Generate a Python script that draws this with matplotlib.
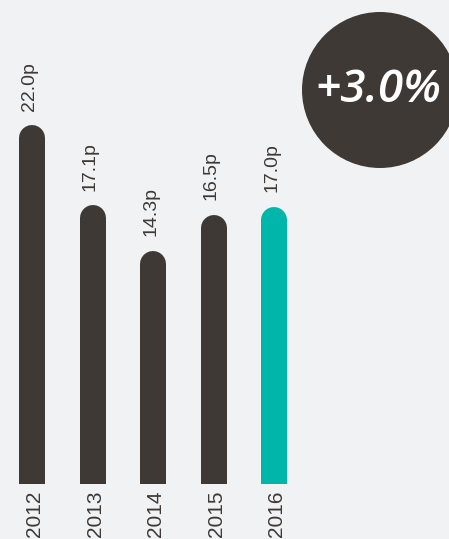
import matplotlib
matplotlib.use("Agg")
import matplotlib.pyplot as plt
from matplotlib.patches import Circle
import numpy as np

years = ["2012", "2013", "2014", "2015", "2016"]
values = [22.0, 17.1, 14.3, 16.5, 17.0]
labels = ["22.0p", "17.1p", "14.3p", "16.5p", "17.0p"]
change_label = "+3.0%"

BG = "#f1f2f4"
DARK = "#3e3935"
TEAL = "#00b5a9"
colors = [DARK, DARK, DARK, DARK, TEAL]

W, H = 449, 539
DPI = 100
fig = plt.figure(figsize=(W / DPI, H / DPI), dpi=DPI, facecolor=BG)

base_px = 484  # baseline from top
px_per_idx = 60.5
px_per_unit = 16.3
first_center = 32
bar_w_px = 26

ax = fig.add_axes([0, (H - base_px) / H, 1, base_px / H])
ax.set_facecolor(BG)
ax.set_xlim(-first_center / px_per_idx, (W - first_center) / px_per_idx)
ax.set_ylim(0, base_px / px_per_unit)
ax.axis("off")

x = np.arange(len(values))
r_units = (bar_w_px / 2) / px_per_unit
lw_pt = bar_w_px * 72 / DPI
for xi, v, c in zip(x, values, colors):
    ax.plot([xi, xi], [-1, v - r_units], color=c, linewidth=lw_pt,
            solid_capstyle="round", clip_on=True)

font = "Liberation Sans"
for xi, v, lab in zip(x, values, labels):
    ax.annotate(lab, (xi, v), xytext=(-1.5, 10.5), textcoords="offset points",
                rotation=90, ha="center", va="bottom", fontsize=14,
                color="#3e3935", family=font)

for xi, y in zip(x, years):
    ax.annotate(y, (xi, 0), xytext=(2, -5), textcoords="offset points",
                rotation=90, ha="center", va="top", fontsize=15,
                color="#3e3935", family=font, annotation_clip=False)

ov = fig.add_axes([0, 0, 1, 1])
ov.set_xlim(0, W)
ov.set_ylim(H, 0)
ov.axis("off")
ov.patch.set_alpha(0)
ov.add_patch(Circle((380, 90), 78, color=DARK, linewidth=0))
ov.text(378, 91, change_label, ha="center", va="center", color="white",
        fontsize=33, fontweight="semibold", fontstyle="italic", family="Open Sans")

fig.savefig("out.png", dpi=DPI, facecolor=BG)
